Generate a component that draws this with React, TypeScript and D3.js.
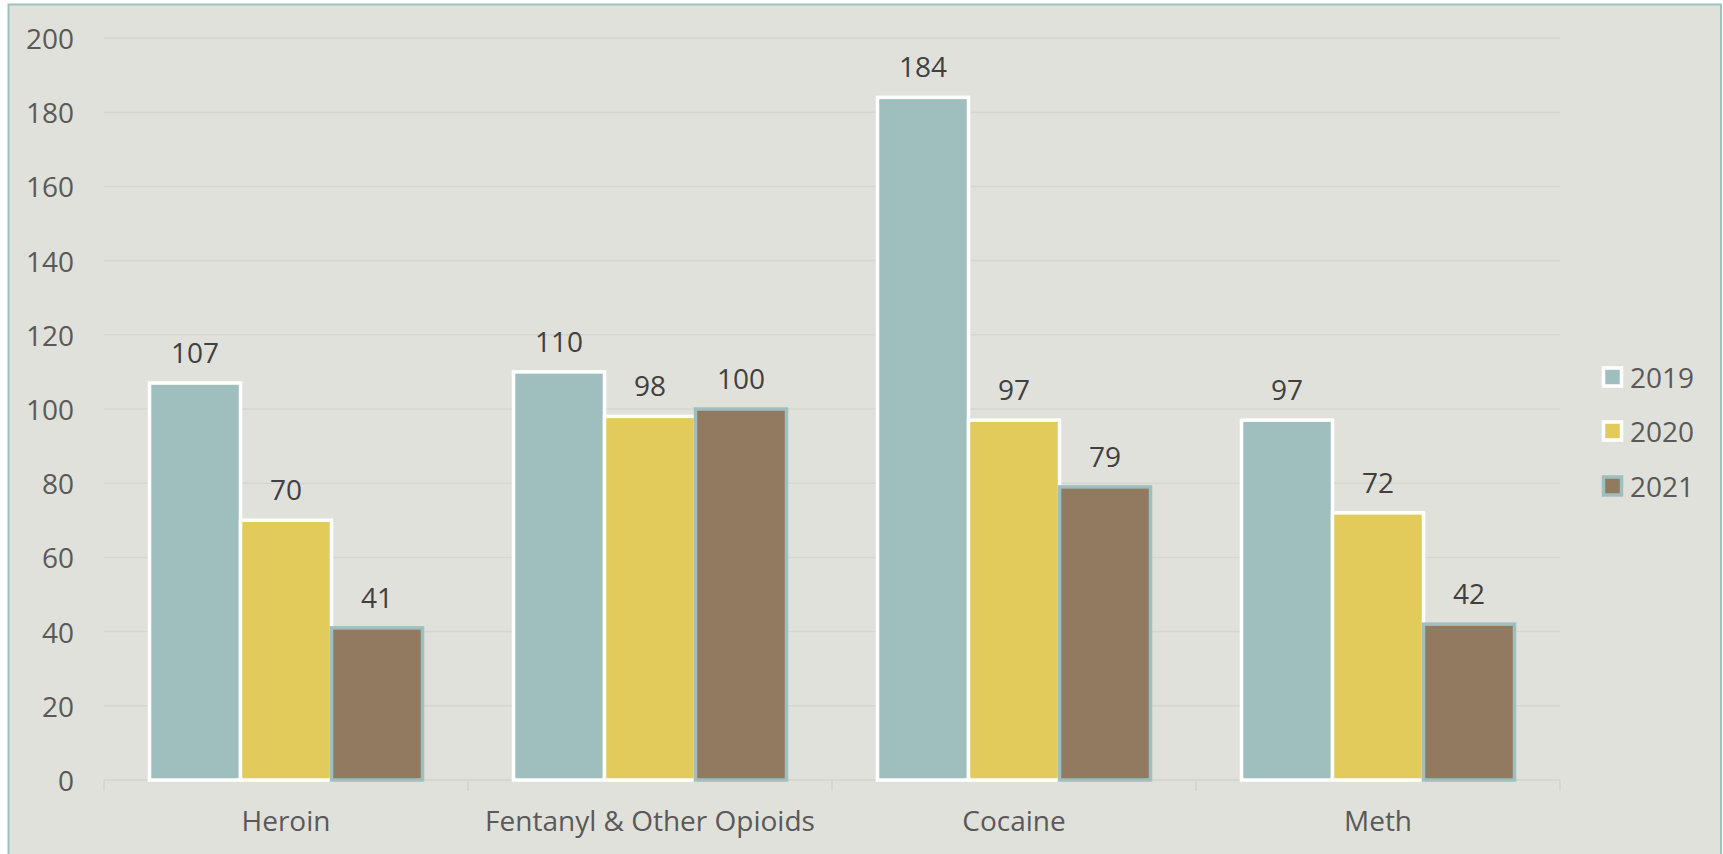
import React from "react";
import * as d3 from "d3";

const categories = ["Heroin", "Fentanyl & Other Opioids", "Cocaine", "Meth"];
const seriesNames = ["2019", "2020", "2021"];
const values2019 = [107, 110, 184, 97];
const values2020 = [70, 98, 97, 72];
const values2021 = [41, 100, 79, 42];
const yTicks = [0, 20, 40, 60, 80, 100, 120, 140, 160, 180, 200];

const W = 1723;
const H = 854;
const FONT = "'Open Sans', 'Noto Sans', sans-serif";
const fills = ["#9FBFBF", "#E2CB5A", "#917A5F"];
const strokes = ["#FFFFFF", "#FFFFFF", "#9FBFBF"];

export default function App() {
  const series = [values2019, values2020, values2021];
  const x = d3.scaleBand<string>().domain(categories).range([104, 1560]).paddingInner(0).paddingOuter(0);
  const inner = d3
    .scaleBand<string>()
    .domain(seriesNames)
    .range([0, x.bandwidth()])
    .paddingOuter(0.5)
    .paddingInner(0);
  const y = d3.scaleLinear().domain([0, 200]).range([780, 38]);

  return (
    <svg width={W} height={H} style={{ position: "absolute", left: 0, top: 0, display: "block" }}>
      <rect x={0} y={0} width={W} height={H} fill="#FFFFFF" />
      <rect x={8.5} y={4.5} width={1712.5} height={H + 10} fill="#E1E1DB" stroke="#9CC3BF" strokeWidth={2} />
      {yTicks.map((t) => (
        <g key={t}>
          {t > 0 && <line x1={104} x2={1560} y1={y(t)} y2={y(t)} stroke="#D6D6D1" strokeWidth={1.5} />}
          <text x={74} y={y(t)} textAnchor="end" dominantBaseline="central" fontFamily={FONT} fontSize={28} fill="#595959">
            {t}
          </text>
        </g>
      ))}
      <line x1={104} x2={1560} y1={y(0)} y2={y(0)} stroke="#D3D3CE" strokeWidth={1.5} />
      {d3.range(categories.length + 1).map((i) => {
        const xx = i < categories.length ? (x(categories[i]) as number) : 1560;
        return <line key={i} x1={xx} x2={xx} y1={y(0)} y2={y(0) + 11} stroke="#D3D3CE" strokeWidth={1.5} />;
      })}
      {categories.map((c, ci) => (
        <g key={c}>
          {series.map((vals, si) => {
            const bx = (x(c) as number) + (inner(seriesNames[si]) as number);
            const bw = inner.bandwidth();
            return (
              <rect
                key={si}
                x={bx}
                y={y(vals[ci])}
                width={bw}
                height={y(0) - y(vals[ci])}
                fill={fills[si]}
                stroke={strokes[si]}
                strokeWidth={3.5}
              />
            );
          })}
          {series.map((vals, si) => {
            const bx = (x(c) as number) + (inner(seriesNames[si]) as number) + inner.bandwidth() / 2;
            return (
              <text key={"l" + si} x={bx} y={y(vals[ci]) - 20} textAnchor="middle" fontFamily={FONT} fontSize={28} fill="#404040">
                {vals[ci]}
              </text>
            );
          })}
          <text x={(x(c) as number) + x.bandwidth() / 2} y={831} textAnchor="middle" fontFamily={FONT} fontSize={28} fill="#595959">
            {c}
          </text>
        </g>
      ))}
      {seriesNames.map((s, si) => {
        const cy = [377, 431, 486][si];
        return (
          <g key={s}>
            <rect x={1603.5} y={cy - 9} width={18} height={18} fill={fills[si]} stroke={strokes[si]} strokeWidth={3.5} />
            <text x={1630} y={cy} dominantBaseline="central" fontFamily={FONT} fontSize={28} fill="#595959">
              {s}
            </text>
          </g>
        );
      })}
    </svg>
  );
}
